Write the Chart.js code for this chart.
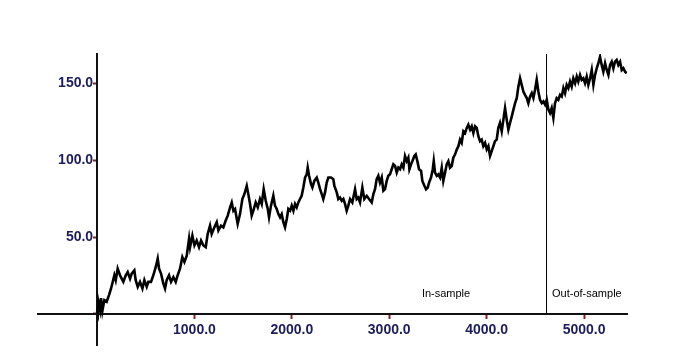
<!DOCTYPE html>
<html>
<head>
<meta charset="utf-8">
<script src="https://cdn.jsdelivr.net/npm/chart.js@4/dist/chart.umd.min.js"></script>
<style>
  body { margin: 0; background: #fff; }
  #chart { display: block; }
</style>
</head>
<body>
<canvas id="chart" width="675" height="359"></canvas>
<script>
// series (step index, value)
const stepX = [
  0, 7, 14, 31, 41, 55, 75, 99, 123, 144, 157, 178, 192, 212, 236, 253, 270, 294, 315, 339,
  356, 383, 397, 418, 441, 466, 486, 510, 527, 554, 578, 603, 623, 637, 657, 681, 698, 715, 739, 760,
  784, 808, 828, 852, 876, 897, 921, 945, 955, 979, 1000, 1023, 1047, 1068, 1092, 1116, 1136, 1160, 1177, 1205,
  1229, 1246, 1273, 1297, 1321, 1342, 1366, 1383, 1400, 1417, 1444, 1468, 1492, 1513, 1537, 1553, 1571, 1588, 1605, 1629,
  1650, 1673, 1691, 1711, 1732, 1753, 1766, 1786, 1810, 1827, 1845, 1862, 1879, 1896, 1913, 1930, 1948, 1964, 1982, 1999,
  2016, 2033, 2050, 2067, 2084, 2101, 2118, 2136, 2153, 2163, 2177, 2197, 2211, 2231, 2256, 2272, 2290, 2307, 2323, 2341,
  2358, 2375, 2402, 2426, 2437, 2461, 2477, 2495, 2512, 2529, 2546, 2563, 2580, 2598, 2621, 2649, 2666, 2683, 2700, 2724,
  2744, 2769, 2793, 2820, 2837, 2854, 2871, 2888, 2905, 2923, 2940, 2957, 2974, 2991, 3008, 3025, 3042, 3060, 3077, 3094,
  3111, 3128, 3145, 3162, 3180, 3196, 3207, 3224, 3238, 3258, 3272, 3292, 3306, 3327, 3340, 3361, 3378, 3395, 3409, 3429,
  3447, 3457, 3470, 3488, 3504, 3522, 3539, 3555, 3573, 3590, 3607, 3624, 3641, 3658, 3676, 3693, 3710, 3727, 3744, 3761,
  3778, 3796, 3812, 3830, 3847, 3864, 3881, 3898, 3915, 3932, 3949, 3966, 3984, 4001, 4018, 4035, 4052, 4069, 4086, 4103,
  4120, 4137, 4155, 4172, 4189, 4206, 4223, 4240, 4258, 4275, 4292, 4309, 4326, 4343, 4360, 4377, 4394, 4412, 4428, 4446,
  4463, 4480, 4497, 4514, 4531, 4548, 4566, 4583, 4600, 4617, 4634, 4651, 4668, 4685, 4702, 4719, 4736, 4754, 4771, 4788,
  4805, 4822, 4839, 4856, 4873, 4890, 4908, 4925, 4941, 4959, 4976, 4993, 5010, 5027, 5044, 5062, 5079, 5096, 5113, 5130,
  5147, 5164, 5181, 5198, 5216, 5233, 5250, 5267, 5284, 5301, 5318, 5335, 5352, 5370, 5387, 5404, 5421, 5438
];
const stepY = [
  2, 0.5, 8, 2.6, 10.3, 2, 9, 8, 12.3, 16.6, 19.8, 25.2, 22, 29.5, 25.2, 23, 20.9, 25, 27.3, 23,
  26.3, 28.4, 22, 17.7, 20.9, 16.6, 22, 17.7, 20.9, 20.9, 25.2, 30.6, 36, 29.5, 26.3, 19.8, 16.6, 22, 25.2, 20.9,
  24, 20.9, 25.2, 29.5, 37, 33.8, 38, 49, 43.5, 51, 44.6, 47.8, 43.5, 47.8, 44.6, 43.5, 52, 57.5, 52, 56.4,
  59.7, 54.3, 57.5, 56.4, 60.8, 64, 69.4, 72.6, 67.2, 68.3, 58.6, 65, 74.8, 78, 83.4, 78, 71.6, 64, 67.2, 72.6,
  69.4, 74.8, 71.6, 81.2, 73.7, 68.3, 62.9, 70.5, 77, 70.5, 68.3, 65, 62.9, 65, 59.7, 56.4, 61.8, 68.3, 67.2, 70.5,
  67.2, 71.6, 69.4, 72.6, 74.8, 76.9, 82.3, 88.8, 90.9, 95.2, 89.9, 84.5, 82.3, 86.6, 88.8, 85.5, 81.2, 78, 74.8, 79.1,
  85.5, 88.8, 88.8, 87.7, 83.4, 79.1, 74.8, 75.8, 73.7, 74.8, 71.6, 67.2, 70.5, 74.8, 72.6, 81.2, 74.8, 75.8, 72.6, 82.3,
  74.8, 76.9, 74.8, 72.6, 78, 81.2, 87.7, 89.9, 85.5, 88.8, 80.2, 81.2, 86.6, 89.9, 90.9, 94.2, 97.4, 96.3, 92, 95.2,
  94.2, 97.4, 95.2, 102.8, 99.5, 101.7, 94.2, 97.4, 99.5, 102.8, 103.8, 98.5, 94.2, 93.1, 86.6, 83.4, 81.2, 82.3, 85.5, 88.8,
  94.2, 99.5, 92, 89.9, 90.9, 88.8, 95.2, 86.6, 92, 97.4, 99.5, 95.2, 96.3, 101.7, 103.9, 107, 109.2, 113.5, 111.4, 118.9,
  117.8, 121.1, 123.2, 120, 122.2, 117.8, 122.2, 121.1, 115.7, 112.5, 113.5, 109.2, 111.4, 107.1, 109.2, 102.8, 106, 109.2, 112.5, 113.5,
  121.1, 124.3, 118.9, 126.5, 134, 126.5, 120, 124.3, 128.6, 133, 137.2, 140.5, 148, 153.4, 149.1, 144.8, 142.6, 140.5, 137.2, 141.6,
  143.7, 140.5, 145.9, 152.4, 144.8, 139.4, 137.2, 138.3, 136.2, 139.4, 133, 130.8, 134, 127.6, 137.2, 140.5, 139.4, 142.6, 141.6, 147,
  143.7, 149.1, 147, 151.3, 148, 153.4, 150.2, 154.5, 151.3, 155.6, 152.4, 153.4, 150.2, 154.5, 149.1, 153.4, 158.8, 149.1, 155.6, 159.9,
  163.2, 167.4, 162.1, 157.7, 163.2, 158.8, 155.6, 162.1, 164.2, 159.9, 164.2, 165.3, 162.1, 164.2, 158.8, 159.9, 157.7, 156.6
];

const xTicks = [0, 1000, 2000, 3000, 4000, 5000];
const yTicks = [0, 50, 100, 150];

// boundary between in-sample and out-of-sample
const splitStep = 4615;
const inSampleLabel = { text: 'In-sample', x: 3583, y: 13.3, align: 'center' };
const outSampleLabel = { text: 'Out-of-sample', x: 4671, y: 13.3, align: 'left' };

const tickFont = { family: '"Liberation Sans", Arial, sans-serif', size: 14, weight: 'bold' };
const tickColor = '#1c1c5e';
const markColor = '#8b2222';

const points = stepX.map((x, i) => ({ x: x, y: stepY[i] }));

const sampleLabels = {
  id: 'sampleLabels',
  afterDatasetsDraw(chart) {
    const { ctx, scales: { x, y } } = chart;
    ctx.save();
    ctx.fillStyle = '#000';
    ctx.font = '11px "Liberation Sans", Arial, sans-serif';
    ctx.textBaseline = 'middle';
    [inSampleLabel, outSampleLabel].forEach(l => {
      ctx.textAlign = l.align;
      ctx.fillText(l.text, x.getPixelForValue(l.x), y.getPixelForValue(l.y));
    });
    ctx.restore();
  }
};

new Chart(document.getElementById('chart'), {
  type: 'line',
  data: {
    datasets: [
      {
        data: points,
        borderColor: '#000',
        borderWidth: 2.6,
        pointRadius: 0,
        tension: 0,
        borderJoinStyle: 'miter'
      },
      {
        data: [{ x: splitStep, y: 0 }, { x: splitStep, y: 169.2 }],
        borderColor: '#000',
        borderWidth: 1,
        pointRadius: 0
      }
    ]
  },
  options: {
    responsive: false,
    animation: false,
    layout: { padding: { left: 38, right: 48, top: 54, bottom: 14 } },
    plugins: { legend: { display: false }, tooltip: { enabled: false } },
    scales: {
      x: {
        type: 'linear',
        min: -606,
        max: 5441,
        position: { y: 0 },
        border: { color: '#111', width: 2 },
        grid: { drawOnChartArea: false, tickLength: 4, tickColor: markColor, tickWidth: 2 },
        afterBuildTicks: s => { s.ticks = xTicks.map(v => ({ value: v })); },
        ticks: {
          autoSkip: false,
          maxRotation: 0,
          padding: 4,
          color: tickColor,
          font: tickFont,
          callback: v => v > 0 ? v.toFixed(1) : ''
        }
      },
      y: {
        type: 'linear',
        min: -20.2,
        max: 169.2,
        position: { x: 0 },
        border: { color: '#111', width: 2 },
        grid: { drawOnChartArea: false, tickLength: 3, tickColor: markColor, tickWidth: 2 },
        afterBuildTicks: s => { s.ticks = yTicks.map(v => ({ value: v })); },
        ticks: {
          padding: 2,
          color: tickColor,
          font: tickFont,
          // trailing space keeps the label clear of the axis line
          callback: v => v > 0 ? v.toFixed(1) + ' ' : ''
        }
      }
    }
  },
  plugins: [sampleLabels]
});
</script>
</body>
</html>
